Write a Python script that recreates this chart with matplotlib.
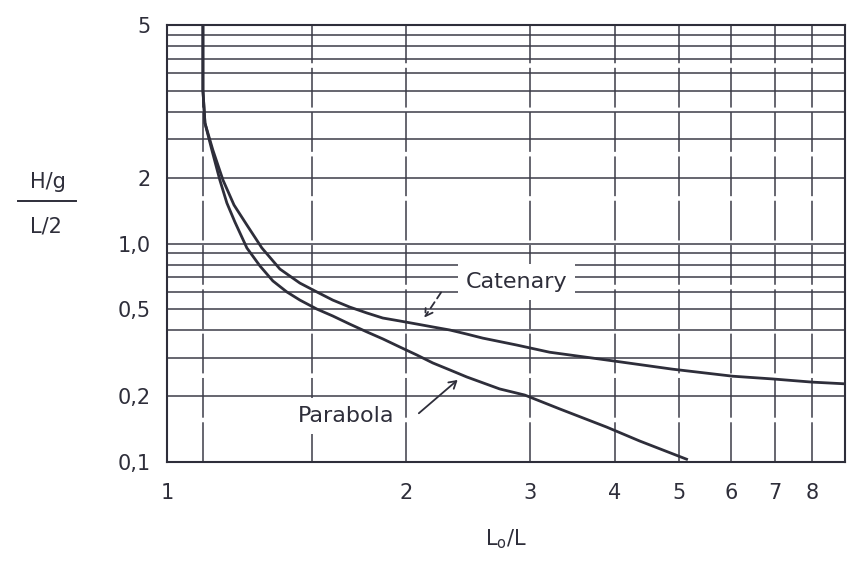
import numpy as np
import matplotlib
matplotlib.use("Agg")
import matplotlib.pyplot as plt
from matplotlib.lines import Line2D

# values (x = Lo/L, y = (H/g)/(L/2))
catenary_x = [1.100, 1.100, 1.106, 1.130, 1.162, 1.198, 1.242, 1.296, 1.365, 1.447,
              1.522, 1.596, 1.680, 1.771, 1.861, 1.963, 2.071, 2.180, 2.302, 2.433,
              2.563, 2.868, 3.202, 3.887, 4.881, 6.028, 6.940, 8.010, 8.980]
catenary_y = [10.0, 5.04, 3.56, 2.68, 1.95, 1.500, 1.215, 0.954, 0.764, 0.659,
              0.600, 0.551, 0.512, 0.481, 0.456, 0.442, 0.428, 0.415, 0.402, 0.385,
              0.369, 0.343, 0.318, 0.293, 0.266, 0.247, 0.240, 0.232, 0.228]

parabola_x = [1.100, 1.100, 1.106, 1.127, 1.152, 1.1745, 1.201, 1.242, 1.289, 1.3375,
              1.393, 1.447, 1.522, 1.596, 1.680, 1.771, 1.861, 1.963, 2.071, 2.180,
              2.302, 2.433, 2.710, 2.946, 3.312, 3.887, 4.355, 5.128]
parabola_y = [10.0, 5.04, 3.56, 2.68, 1.95, 1.532, 1.254, 0.954, 0.789, 0.674,
              0.600, 0.551, 0.501, 0.466, 0.428, 0.394, 0.366, 0.336, 0.309, 0.284,
              0.264, 0.245, 0.216, 0.2025, 0.175, 0.1445, 0.1248, 0.103]

x_ticks = [1, 2, 3, 4, 5, 6, 7, 8]
x_minor = [1.1, 1.5]
y_ticks = [0.1, 0.2, 0.5, 1.0, 2.0, 10.0]
y_labels = ["0,1", "0,2", "0,5", "1,0", "2", "5"]
y_minor = [0.3, 0.4, 0.6, 0.7, 0.8, 0.9, 3, 4, 5, 6, 7, 8, 9]

ink = "#2e2e3a"
grid_ink = "#3c3c48"

plt.rcParams["font.family"] = ["DejaVu Sans"]

fig = plt.figure(figsize=(8.55, 5.64), dpi=100)
ax = fig.add_axes([167 / 855, 102 / 564, 678 / 855, 437 / 564])

# the printed x scale is squeezed toward 1, roughly log(x - 0.3)
ax.set_xscale("function", functions=(lambda v: np.log10(np.clip(v - 0.3, 1e-6, None)),
                                     lambda v: 10 ** v + 0.3))
ax.set_yscale("log")
ax.set_xlim(1, 9)
ax.set_ylim(0.1, 10)

ax.set_xticks(x_ticks)
ax.set_xticklabels([str(t) for t in x_ticks])
ax.set_xticks(x_minor, minor=True)
ax.set_yticks(y_ticks)
ax.set_yticklabels(y_labels)
ax.set_yticks(y_minor, minor=True)
ax.yaxis.set_minor_formatter(plt.NullFormatter())
ax.xaxis.set_minor_formatter(plt.NullFormatter())

ax.tick_params(which="both", length=0)
ax.tick_params(axis="y", pad=12, labelsize=15, labelcolor=ink)
ax.tick_params(axis="x", pad=15, labelsize=15, labelcolor=ink)

ax.grid(True, which="both", axis="y", color=grid_ink, lw=1.1, ls="-")
ax.grid(True, which="both", axis="x", color=grid_ink, lw=1.1, ls=(0, (26, 3)))
for s in ax.spines.values():
    s.set_color(ink)
    s.set_linewidth(1.5)

ax.plot(catenary_x, catenary_y, color=ink, lw=2.0, zorder=4)
ax.plot(parabola_x, parabola_y, color=ink, lw=2.0, zorder=4)

# curve labels with their little arrows
ax.text(2.868, 0.667, "Catenary", fontsize=16, color=ink, ha="center", va="center",
        zorder=3, bbox=dict(boxstyle="square,pad=0.35", fc="white", ec="none"))
ax.annotate("", xy=(2.111, 0.447), xytext=(2.250, 0.612), zorder=5,
            arrowprops=dict(arrowstyle="->,head_length=0.5,head_width=0.3",
                            color=ink, lw=1.3, ls=(0, (4, 2.5))))

ax.text(1.660, 0.1623, "Parabola", fontsize=16, color=ink, ha="center", va="center",
        zorder=3, bbox=dict(boxstyle="square,pad=0.35", fc="white", ec="none"))
ax.annotate("", xy=(2.378, 0.242), xytext=(2.071, 0.164), zorder=5,
            arrowprops=dict(arrowstyle="->,head_length=0.5,head_width=0.3",
                            color=ink, lw=1.3))

ax.set_xlabel("L$_\\mathregular{o}$/L", fontsize=15, color=ink, labelpad=18)

# stacked y label  (H/g) over (L/2)
fig.text(48 / 855, 1 - 182 / 564, "H/g", fontsize=15, color=ink, ha="center", va="center")
fig.text(46 / 855, 1 - 226 / 564, "L/2", fontsize=15, color=ink, ha="center", va="center")
fig.add_artist(Line2D([18 / 855, 76 / 855], [1 - 201 / 564, 1 - 201 / 564],
                      transform=fig.transFigure, color=ink, lw=1.4))

fig.savefig("out.png", dpi=100)
